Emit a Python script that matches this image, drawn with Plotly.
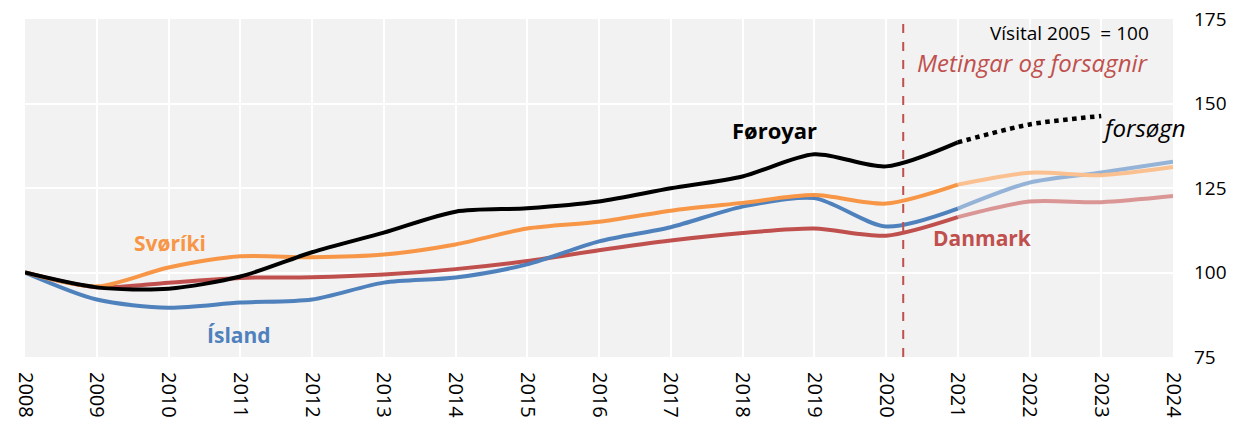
import plotly.graph_objects as go

years = list(range(2008, 2022))
fc_years = [2021, 2022, 2023, 2024]
far_fc_years = [2021, 2022, 2023]

foroyar = [100, 95.6, 95.2, 98.8, 106, 111.8, 118, 119, 121, 124.9, 128.4, 135, 131.4, 138.5]
foroyar_fc = [138.5, 143.8, 146.3]

svoriki = [100, 95.9, 101.5, 104.8, 104.5, 105.3, 108.3, 113, 115, 118.3, 120.6, 122.9, 120.4, 126]
svoriki_fc = [126, 129.5, 128.8, 131.2]

island = [100, 92, 89.6, 91.1, 92, 97, 98.5, 102.4, 109.2, 113.4, 119.5, 122, 113.6, 118.9]
island_fc = [118.9, 126.6, 129.6, 132.8]

danmark = [100, 95.6, 97, 98.4, 98.6, 99.4, 101, 103.4, 106.6, 109.5, 111.7, 113, 110.9, 116.4]
danmark_fc = [116.4, 121, 120.8, 122.6]

x_ticks = list(range(2008, 2025))
y_ticks = [75, 100, 125, 150, 175]
split_year = 2020.24

FONT = "Open Sans, sans-serif"
BLACK = "#000000"
ORANGE = "#F79646"
BLUE = "#4F81BD"
RED = "#C0504D"
ORANGE_L = "#FAC08F"
BLUE_L = "#95B3D7"
RED_L = "#D99694"

fig = go.Figure()

def add(x, y, color, dash="solid", w=4):
    fig.add_trace(go.Scatter(x=x, y=y, mode="lines",
                             line=dict(color=color, width=w, dash=dash, shape="spline", smoothing=0.8),
                             showlegend=False, hoverinfo="skip"))

add(fc_years, danmark_fc, RED_L)
add(fc_years, island_fc, BLUE_L)
add(fc_years, svoriki_fc, ORANGE_L)
add(years, danmark, RED)
add(years, island, BLUE)
add(years, svoriki, ORANGE)
add(years, foroyar, BLACK)
add(far_fc_years, foroyar_fc, BLACK, dash="dot", w=4.5)

fig.add_shape(type="line", x0=split_year, x1=split_year, y0=75, y1=175, xref="x", yref="y",
              line=dict(color=RED, width=2, dash="dash"))

def ann(text, x, y, color, size=24, bold=False, italic=False):
    t = text
    if bold:
        t = "<b>" + t + "</b>"
    if italic:
        t = "<i>" + t + "</i>"
    fig.add_annotation(x=x, y=y, text=t, showarrow=False, xref="x", yref="y",
                       font=dict(family=FONT, size=size, color=color))

ann("Føroyar", 2018.45, 142.2, BLACK, size=22, bold=True)
ann("Svøríki", 2010.02, 108.7, ORANGE, size=21, bold=True)
ann("Ísland", 2010.98, 81.5, BLUE, size=21, bold=True)
ann("Danmark", 2021.34, 110.2, RED, size=21, bold=True)
ann("Vísital 2005  = 100", 2022.56, 170.9, BLACK, size=19)
ann("Metingar og forsagnir", 2022.05, 162, RED, size=24, italic=True)
ann("forsøgn", 2023.6, 142.8, BLACK, size=24, italic=True)

fig.update_layout(
    width=1238, height=423,
    margin=dict(l=25, r=65, t=19, b=66),
    paper_bgcolor="white", plot_bgcolor="#F2F2F2",
    font=dict(family=FONT, size=19, color="black"),
)
fig.update_xaxes(range=[2008, 2024], tickvals=x_ticks, ticktext=[str(v) for v in x_ticks],
                 tickangle=90, showgrid=True, gridcolor="white", gridwidth=2,
                 zeroline=False, showline=False, ticks="", tickfont=dict(size=20),
                 automargin=False, ticklabelstandoff=14, ticklabeloverflow="allow")
fig.update_yaxes(range=[75, 175], tickvals=y_ticks, side="right", showgrid=True,
                 gridcolor="white", gridwidth=2, zeroline=False, showline=False, ticks="",
                 tickfont=dict(size=19), ticklabelstandoff=20, automargin=False,
                 ticklabeloverflow="allow")

# remove the default 8px page margin so the figure fills the window exactly
fig.write_html("out.html", config={"displayModeBar": False},
               post_script="document.body.style.margin='0';document.body.style.overflow='hidden';")
